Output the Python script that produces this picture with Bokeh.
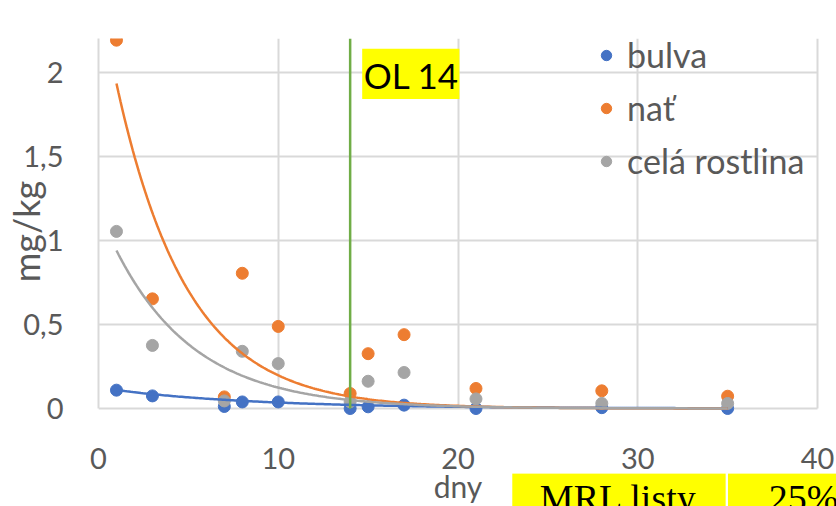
import numpy as np
from bokeh.plotting import figure
from bokeh.layouts import column
from bokeh.models import (Range1d, FixedTicker, BoxAnnotation, Label,
                          Legend, LegendItem)
from bokeh.embed import file_html
from bokeh.resources import INLINE

# residues (mg/kg) by days after application
days = [1, 3, 7, 8, 10, 14, 15, 17, 21, 28, 35]
bulva = [0.109, 0.075, 0.012, 0.039, 0.039, 0.0, 0.010, 0.020, 0.0, 0.005, 0.0]
nat = [2.19, 0.652, 0.069, 0.804, 0.488, 0.089, 0.326, 0.439, 0.119, 0.105, 0.073]
cela = [1.053, 0.375, 0.045, 0.340, 0.267, 0.040, 0.162, 0.214, 0.057, 0.030, 0.030]

series_names = ["bulva", "nať", "celá rostlina"]
series_colors = ["#4472C4", "#ED7D31", "#A5A5A5"]

# exponential trend lines y = a * exp(-b * day)
trend_coef = [(0.124, 0.125), (2.49, 0.2536), (1.176, 0.2248)]
trend_span = (1, 35)

# withdrawal period (days)
ol_days = 14

x_ticks = [0, 10, 20, 30, 40]
y_ticks = [0, 0.5, 1.0, 1.5, 2.0]
y_tick_labels = ["0", "0,5", "1", "1,5", "2"]

TXT = "#595959"
GRID = "#D9D9D9"
FONT = "Lato"

# geometry (pixels)
W, H = 836, 506
LEFT, TOP = 98, 38
AXIS_Y = 408          # pixel row of y = 0
AXIS_X_END = 817      # pixel column of x = 40
CHART_H = 424         # chart canvas height (a little below y = 0 for markers)
STRIP_TOP = 473       # top of the strip frame with the table cells
X0, X1, Y0, Y1 = 0, 40, 0, 2.2

px_per_x = (AXIS_X_END - LEFT) / (X1 - X0)
px_per_y = (AXIS_Y - TOP) / (Y1 - Y0)
x_end = X1 + (W - AXIS_X_END) / px_per_x
y_lo = Y0 - (CHART_H - AXIS_Y) / px_per_y

xr = Range1d(X0, x_end)
p = figure(width=W, height=CHART_H, x_range=xr, y_range=Range1d(y_lo, Y1),
           output_backend="svg", toolbar_location=None, x_axis_location=None,
           min_border_left=LEFT, min_border_right=0, min_border_top=TOP,
           min_border_bottom=0)
p.outline_line_color = None

p.yaxis.ticker = FixedTicker(ticks=y_ticks)
p.yaxis.major_label_overrides = {t: s for t, s in zip(y_ticks, y_tick_labels)}
p.yaxis.bounds = (Y0, Y1)
p.yaxis.major_tick_out = 0
p.yaxis.major_tick_in = 0
p.yaxis.minor_tick_out = 0
p.yaxis.minor_tick_in = 0
p.yaxis.axis_line_color = GRID
p.yaxis.axis_line_width = 2
p.yaxis.major_label_text_font = FONT
p.yaxis.major_label_text_font_size = "29px"
p.yaxis.major_label_text_color = TXT
p.yaxis.major_label_standoff = 35
p.yaxis.axis_label = "mg/kg"
p.yaxis.axis_label_text_font = FONT
p.yaxis.axis_label_text_font_size = "36px"
p.yaxis.axis_label_text_font_style = "normal"
p.yaxis.axis_label_text_color = TXT
p.yaxis.axis_label_standoff = -28

p.xgrid.ticker = FixedTicker(ticks=x_ticks)
p.ygrid.ticker = FixedTicker(ticks=y_ticks)
p.xgrid.cross_bounds = (Y0, Y1)
p.ygrid.cross_bounds = (X0, X1)
p.grid.grid_line_color = GRID
p.grid.grid_line_width = 2

# measured points
renderers = []
for vals, color in zip([bulva, nat, cela], series_colors):
    r = p.scatter(days, vals, size=12, color=color, line_color=color)
    renderers.append(r)

# trend lines
xs = np.linspace(trend_span[0], trend_span[1], 300)
for (a, b), color in zip(trend_coef, series_colors):
    p.line(xs, a * np.exp(-b * xs), line_color=color, line_width=2.5)

# withdrawal period marker
p.segment(x0=[ol_days], y0=[Y0], x1=[ol_days], y1=[Y1], line_color="#70AD47",
          line_width=2.5)
p.add_layout(BoxAnnotation(left=14.67, right=20.08, bottom=1.841, top=2.139,
                           fill_color="#FFFF00", fill_alpha=1, line_alpha=0))
p.add_layout(Label(x=17.41, y=1.985, text="OL 14", text_align="center",
                   text_baseline="middle", text_font=FONT,
                   text_font_size="35px", text_color="black"))

legend = Legend(items=[LegendItem(label=n, renderers=[r])
                       for n, r in zip(series_names, renderers)],
                location=(495, CHART_H - 181), glyph_width=26, glyph_height=40,
                spacing=12, label_standoff=8, padding=0, margin=0,
                border_line_color=None, background_fill_alpha=0,
                label_text_font=FONT, label_text_font_size="34px",
                label_text_color=TXT)
p.add_layout(legend)

# strip below: x tick labels, axis title and table cells (same x scale)
s_ytop = Y0 - (STRIP_TOP - AXIS_Y) / px_per_y
s_ybot = Y0 - (H - AXIS_Y) / px_per_y
s = figure(width=W, height=H - CHART_H, x_range=xr, y_range=Range1d(s_ybot, s_ytop),
           output_backend="svg", toolbar_location=None,
           x_axis_location="above", y_axis_location=None,
           min_border_left=LEFT, min_border_right=0,
           min_border_top=STRIP_TOP - CHART_H, min_border_bottom=0)
s.outline_line_color = None
s.grid.visible = False
s.xaxis.ticker = FixedTicker(ticks=x_ticks)
s.xaxis.bounds = (X0, X1)
s.xaxis.axis_line_color = None
s.xaxis.major_tick_out = 0
s.xaxis.major_tick_in = 0
s.xaxis.minor_tick_out = 0
s.xaxis.minor_tick_in = 0
s.xaxis.major_label_text_font = FONT
s.xaxis.major_label_text_font_size = "29px"
s.xaxis.major_label_text_color = TXT
s.xaxis.major_label_standoff = 5

s.add_layout(Label(x=20, y=-0.4630, text="dny", text_align="center",
                   text_baseline="middle", text_font=FONT,
                   text_font_size="30px", text_color=TXT))
s.add_layout(BoxAnnotation(left=23.02, right=34.89, top=-0.3855, bottom=-0.8,
                           fill_color="#FFFF00", fill_alpha=1, line_alpha=0))
s.add_layout(BoxAnnotation(left=35.02, right=42, top=-0.3855, bottom=-0.8,
                           fill_color="#FFFF00", fill_alpha=1, line_alpha=0))
s.add_layout(Label(x=28.93, y=-0.5304, text="MRL listy", text_align="center",
                   text_baseline="middle", text_font="Liberation Serif",
                   text_font_size="38px", text_color="black"))
s.add_layout(Label(x=37.29, y=-0.5304, text="25%", text_align="left",
                   text_baseline="middle", text_font="Liberation Serif",
                   text_font_size="38px", text_color="black"))

layout = column(p, s, spacing=0)
open("out.html", "w").write(file_html(layout, INLINE))
